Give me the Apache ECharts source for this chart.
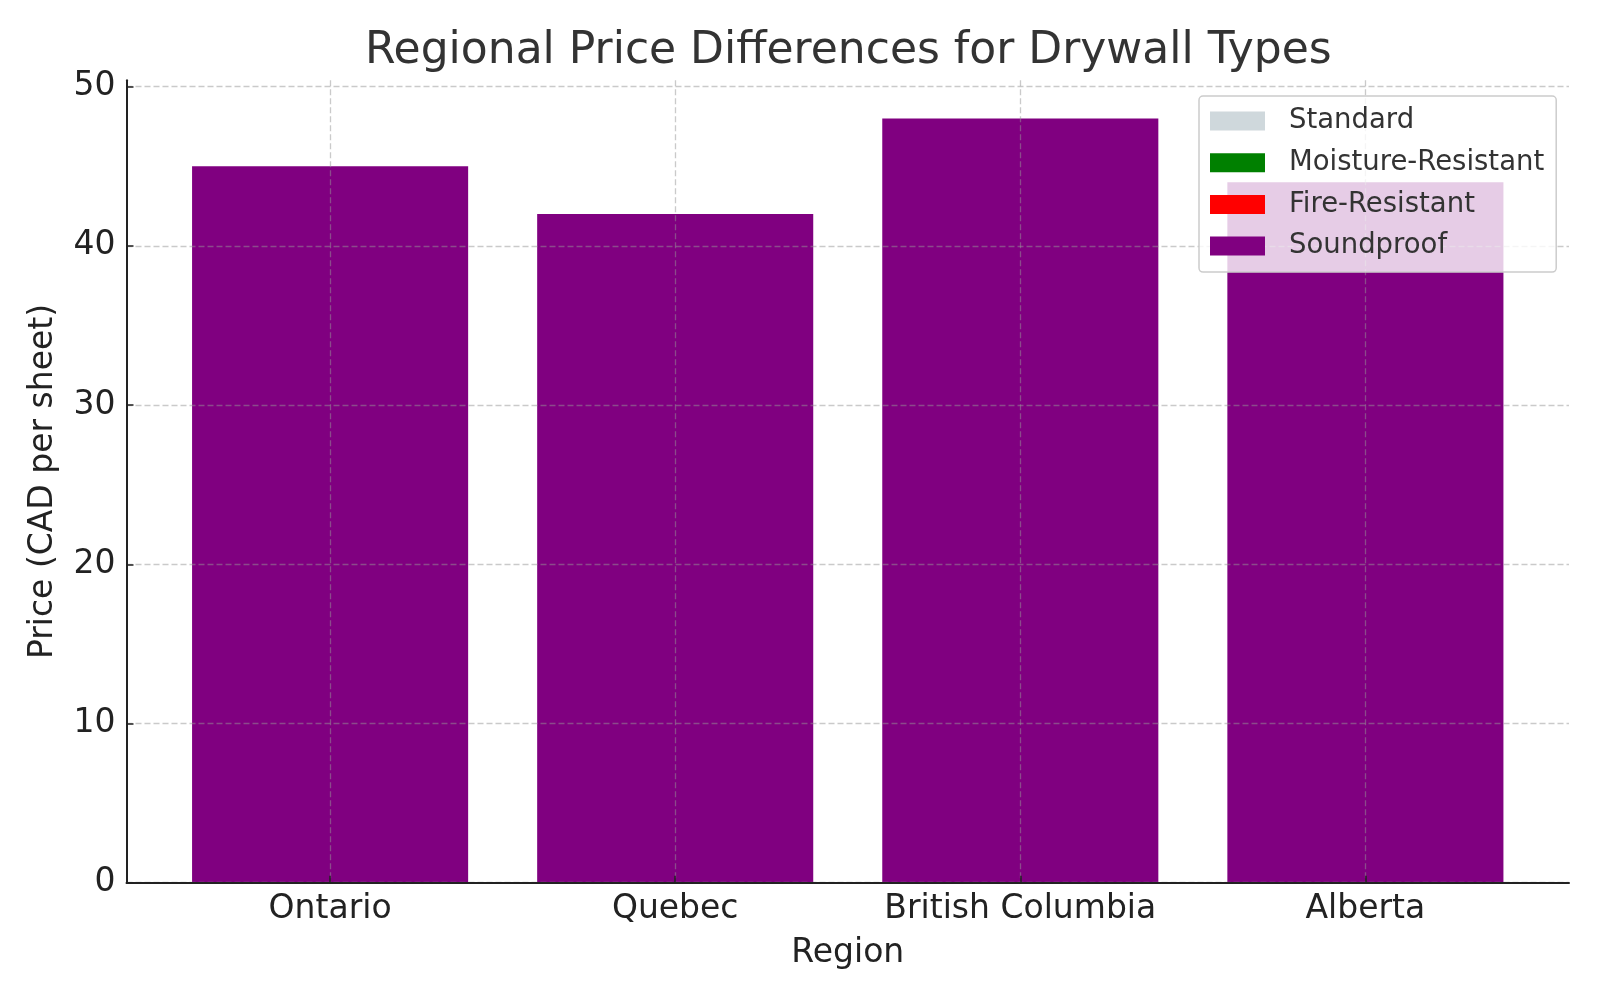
<!DOCTYPE html>
<html>
<head>
<meta charset="utf-8">
<script src="https://cdn.jsdelivr.net/npm/echarts@6/dist/echarts.min.js"></script>
<style>html,body{margin:0;padding:0;background:#fff}#c{width:1600px;height:1000px}</style>
</head>
<body>
<div id="c"></div>
<script>
// ---- data ----
const regions = ['Ontario', 'Quebec', 'British Columbia', 'Alberta'];
// Standard / Moisture-Resistant / Fire-Resistant bars are fully hidden behind the Soundproof bars
// in the reference, so their values cannot be read; they are left empty.
const standard = [null, null, null, null];
const moistureResistant = [null, null, null, null];
const fireResistant = [null, null, null, null];
const soundproof = [45, 42, 48, 44];
const yTicks = [0, 10, 20, 30, 40, 50];
const seriesNames = ['Standard', 'Moisture-Resistant', 'Fire-Resistant', 'Soundproof'];

// ---- layout / style ----
const FONT = 'DejaVu Sans';
const colors = ['#cfd8dc', '#008000', '#ff0000', '#800080'];
const gridL = 126.5, gridR = 1569, gridT = 80.3, gridB = 882.7;
const xMin = -0.59, xMax = 3.59;
const unitPx = (gridR - gridL) / (xMax - xMin);
const barW = 0.8 * unitPx;
const gridLine = { show: true, lineStyle: { color: 'rgba(150,150,150,0.5)', width: 1.3, type: [6, 3] } };

const allData = [standard, moistureResistant, fireResistant, soundproof];
const series = seriesNames.map((name, k) => ({
  name: name,
  type: 'bar',
  barWidth: barW,
  barGap: '-100%',
  z: 1,
  itemStyle: { color: colors[k] },
  data: regions.map((r, i) => [i, allData[k][i]]).filter(d => d[1] !== null)
}));

const chart = echarts.init(document.getElementById('c'), null, { renderer: 'canvas' });
chart.setOption({
  animation: false,
  backgroundColor: '#ffffff',
  title: {
    text: 'Regional Price Differences for Drywall Types',
    left: 360, top: 25,
    textStyle: { fontFamily: FONT, fontSize: 44, fontWeight: 'normal', color: '#333333' }
  },
  legend: {
    left: 1199, top: 96, orient: 'vertical',
    data: seriesNames,
    icon: 'rect', itemWidth: 55, itemHeight: 19, itemGap: 13.7,
    padding: [11, 12, 12, 11],
    backgroundColor: 'rgba(255,255,255,0.8)',
    borderColor: '#cccccc', borderWidth: 1.5, borderRadius: 4,
    textStyle: { fontFamily: FONT, fontSize: 27.5, color: '#333333', lineHeight: 28, padding: [0, 0, 0, 19] }
  },
  grid: { left: gridL, right: 1600 - gridR, top: gridT, bottom: 1000 - gridB, containLabel: false },
  xAxis: {
    type: 'value', min: xMin, max: xMax, z: 3,
    name: 'Region', nameLocation: 'middle', nameGap: 54,
    nameTextStyle: { fontFamily: FONT, fontSize: 33, color: '#222222' },
    axisLine: { show: true, onZero: false, lineStyle: { color: '#222222', width: 2 } },
    axisTick: { show: true, inside: true, length: 7, customValues: [0, 1, 2, 3], lineStyle: { color: '#222222', width: 1.5 } },
    axisLabel: { customValues: [0, 1, 2, 3], margin: 10, fontFamily: FONT, fontSize: 33, color: '#222222',
      formatter: v => regions[Math.round(v)] },
    splitLine: gridLine
  },
  yAxis: {
    type: 'value', min: 0, max: 50.4, z: 3,
    name: 'Price (CAD per sheet)', nameLocation: 'middle', nameGap: 67,
    nameTextStyle: { fontFamily: FONT, fontSize: 33, color: '#222222' },
    axisLine: { show: true, onZero: false, lineStyle: { color: '#222222', width: 2 } },
    axisTick: { show: true, inside: true, length: 7, customValues: yTicks, lineStyle: { color: '#222222', width: 1.5 } },
    axisLabel: { customValues: yTicks, margin: 11, padding: [6, 0, 0, 0], fontFamily: FONT, fontSize: 33, color: '#222222' },
    splitLine: gridLine
  },
  series: series
});
</script>
</body>
</html>
